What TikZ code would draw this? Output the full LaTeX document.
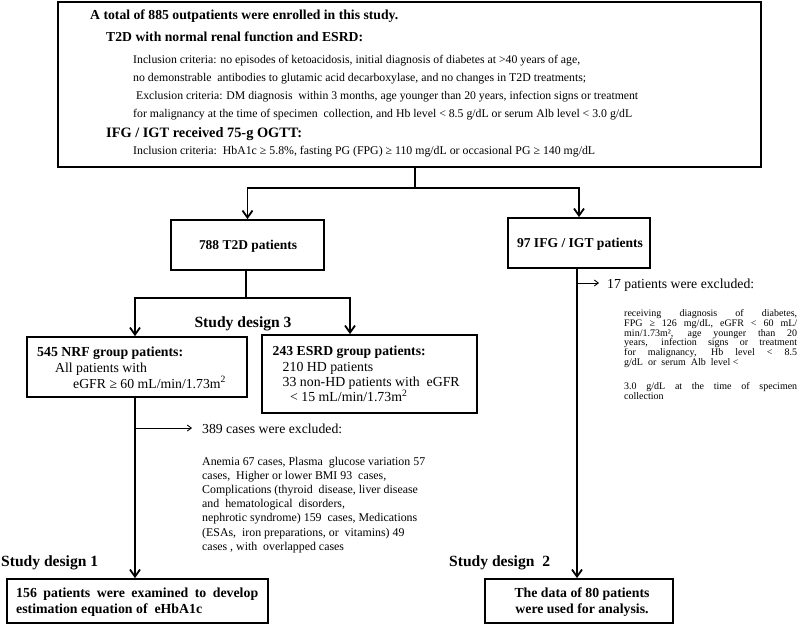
\documentclass[tikz,border=0pt]{standalone}
\usepackage{fontspec}
\setmainfont{Liberation Serif}
\usetikzlibrary{arrows.meta}
\newlength\fitlen
\newcommand\deffit[4]{\pgfinterruptpicture\settowidth\fitlen{\rmfamily\fontsize{10}{12}\selectfont#3#4}\global\fitlen=\fitlen\endpgfinterruptpicture\pgfmathsetmacro#1{10*#2/\fitlen}}
\newcommand\fitnode[6]{\deffit\tmpsz{#3}{#4}{#6}\node[inner sep=0pt, anchor=#5, font={\fontsize{\tmpsz}{14}\selectfont#4}] (#1) at #2 {#6};}
\begin{document}
\begin{tikzpicture}[x=1pt,y=-1pt,
  box/.style={draw, line width=1.8pt, inner sep=0pt},
  conn/.style={line width=1.8pt},
  arr/.style={conn, -{Straight Barb[length=7pt,width=10pt]}},
  thinarr/.style={line width=0.9pt, -{Straight Barb[length=4pt,width=6pt]}},
  txt/.style={inner sep=0pt, anchor=base west},
]
\useasboundingbox (0,0) rectangle (798,624);
% group font sizes
\deffit\fsSD{97}{\bfseries}{Study design 1}
\deffit\fsNb{91.7}{}{All patients with}
\deffit\fsEb{177}{}{33 non-HD patients with\ \ eGFR}
\deffit\fsXl{223}{}{Anemia 67 cases, Plasma\ \ glucose variation 57}
\deffit\fsBa{186}{\bfseries}{estimation equation of\ \ eHbA1c}
\deffit\fsBb{135}{\bfseries}{The data of 80 patients}
\tikzset{
  sd/.style={txt, font={\fontsize{\fsSD}{16}\selectfont\bfseries}},
  nb/.style={txt, font={\fontsize{\fsNb}{14}\selectfont}},
  eb/.style={txt, font={\fontsize{\fsEb}{14}\selectfont}},
  xl/.style={txt, align=left, font={\fontsize{\fsXl}{14.2}\selectfont}},
  xr/.style={txt, align=left, font={\fontsize{10}{9.8}\selectfont\lineskiplimit=-10pt}},
  ba/.style={txt, font={\fontsize{\fsBa}{14}\selectfont\bfseries}},
  bb/.style={txt, anchor=base, font={\fontsize{\fsBb}{14}\selectfont\bfseries}},
}

% boxes
\node[box, minimum width=703pt, minimum height=165pt] (top) at (409.5,84.5) {};
\node[box, minimum width=153pt, minimum height=50pt] (t2d) at (247.5,245) {};
\node[box, minimum width=142pt, minimum height=50pt] (ifg) at (579,243) {};
\node[box, minimum width=220pt, minimum height=60pt] (nrf) at (137,367) {};
\node[box, minimum width=215pt, minimum height=78pt] (esrd) at (369.5,374) {};
\node[box, minimum width=261pt, minimum height=44pt] (b1) at (137.5,601) {};
\node[box, minimum width=188pt, minimum height=44pt] (b2) at (579,601) {};

\fitnode{t2dl}{(248,249.5)}{98}{\bfseries}{base}{788 T2D patients}
\fitnode{ifgl}{(580,247.5)}{126}{\bfseries}{base}{97 IFG / IGT patients}

% top box text
\fitnode{t1}{(90,19)}{308}{\bfseries}{base west}{A total of 885 outpatients were enrolled in this study.}
\fitnode{t2}{(106,41.5)}{257}{\bfseries}{base west}{T2D with normal renal function and ESRD:}
\fitnode{t3}{(133,63)}{447}{}{base west}{Inclusion criteria: no episodes of ketoacidosis, initial diagnosis of diabetes at >40 years of age,}
\fitnode{t4}{(133,81)}{453}{}{base west}{no demonstrable\ \ antibodies to glutamic acid decarboxylase, and no changes in T2D treatments;}
\fitnode{t5}{(136,99)}{502}{}{base west}{Exclusion criteria: DM diagnosis\ \ within 3 months, age younger than 20 years, infection signs or treatment}
\fitnode{t6}{(133,117)}{499}{}{base west}{for malignancy at the time of specimen\ \ collection, and Hb level < 8.5 g/dL or serum Alb level < 3.0 g/dL}
\fitnode{t7}{(106,137)}{196}{\bfseries}{base west}{IFG / IGT received 75-g OGTT:}
\fitnode{t8}{(133,154)}{462}{}{base west}{Inclusion criteria:\ \ HbA1c ≥ 5.8\%, fasting PG (FPG) ≥ 110 mg/dL or occasional PG ≥ 140 mg/dL}

% study design labels
\node[sd, anchor=base] (sd3) at (243,327) {Study design 3};
\node[sd] (sd1) at (1,566) {Study design 1};
\node[sd] (sd2) at (449,566) {Study design\ \ 2};

% NRF box text
\fitnode{n1}{(37,356)}{146}{\bfseries}{base west}{545 NRF group patients:}
\node[nb] (n2) at (55,372) {All patients with};
\node[nb] (n3) at (73,388) {eGFR ≥ 60 mL/min/1.73m\textsuperscript{2}};

% ESRD box text
\fitnode{e1}{(272.5,355)}{153}{\bfseries}{base west}{243 ESRD group patients:}
\node[eb] (e2) at (282.5,371.5) {210 HD patients};
\node[eb] (e3) at (282.5,386.5) {33 non-HD patients with\ \ eGFR};
\node[eb] (e4) at (290,401.5) {< 15 mL/min/1.73m\textsuperscript{2}};

% exclusion texts (anchor = baseline of last line)
\fitnode{x1}{(202,433)}{140}{}{base west}{389 cases were excluded:}
\node[xl] (xlist) at (202,550.2) {Anemia 67 cases, Plasma\ \ glucose variation 57\\
cases,\ \ Higher or lower BMI 93\ \ cases,\\
Complications (thyroid\ \ disease, liver disease\\
and\ \ hematological\ \ disorders,\\
nephrotic syndrome) 159\ \ cases, Medications\\
(ESAs,\ \ iron preparations, or\ \ vitamins) 49\\
cases , with\ \ overlapped cases};

\fitnode{y1}{(607,288)}{147}{}{base west}{17 patients were excluded:}
\node[xr] (ylist) at (624,399.1) {\makebox[173pt][s]{receiving diagnosis of diabetes,}\\
\makebox[173pt][s]{FPG ≥ 126 mg/dL, eGFR < 60 mL/}\\
\makebox[173pt][s]{min/1.73m², age younger than 20}\\
\makebox[173pt][s]{years, infection signs or treatment}\\
\makebox[173pt][s]{for malignancy, Hb level < 8.5}\\
g/dL\ \ or\ \ serum\ \ Alb\ \ level <\\[14pt]
\makebox[173pt][s]{3.0 g/dL at the time of specimen}\\
collection};

% bottom box text
\node[ba] (b1a) at (16,597) {\makebox[242pt][s]{156 patients were examined to develop}};
\node[ba] (b1b) at (16,613.5) {estimation equation of\ \ eHbA1c};
\node[bb] (b2a) at (582,597) {The data of 80 patients};
\node[bb] (b2b) at (582,613.5) {were used for analysis.};

% connectors
\coordinate (j1) at (415,188);
\coordinate (j2) at (246,298);
\coordinate (ej) at (350,298);
\coordinate (k1) at (135,428);
\coordinate (k1e) at (192,428);
\coordinate (k2) at (577,283);
\coordinate (k2e) at (599,283);

\draw[conn] (top.south -| j1) -- (j1);
\draw[arr] (j1) -| (t2d.north);
\draw[arr] (j1) -| (ifg.north);
\draw[conn] (t2d.south -| j2) -- (j2);
\draw[arr] (j2) -| (nrf.north -| k1);
\draw[arr] (j2) -- (ej) -- (ej |- esrd.north);
\draw[arr] (nrf.south -| k1) -- (b1.north -| k1);
\draw[thinarr] (k1) -- (k1e);
\draw[arr] (ifg.south -| k2) -- (b2.north -| k2);
\draw[thinarr] (k2) -- (k2e);
\end{tikzpicture}
\end{document}
